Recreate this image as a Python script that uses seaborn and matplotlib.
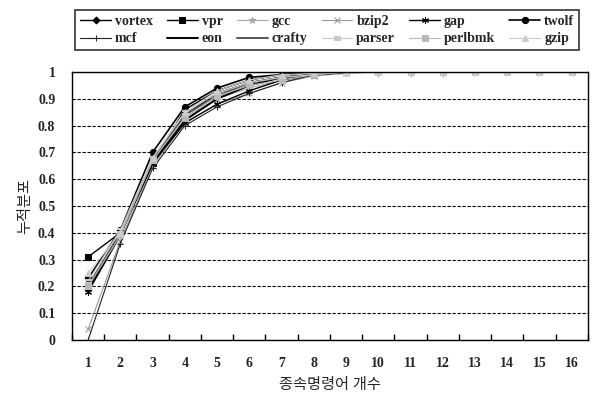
import numpy as np
import pandas as pd
import matplotlib
matplotlib.use("Agg")
import matplotlib.pyplot as plt
import seaborn as sns
from matplotlib.ticker import FixedLocator

x = list(range(1, 17))
nan = np.nan
vortex  = [0.19, 0.40, 0.66, 0.86, 0.93, 0.97, 0.99, 1.00, 1.00, 1.00, 1.00, 1.00, nan, nan, nan, nan]
vpr     = [0.31, 0.40, 0.66, 0.84, 0.92, 0.96, 0.98, 0.99, 1.00, 1.00, 1.00, 1.00, nan, nan, nan, nan]
gcc     = [0.21, 0.39, 0.67, 0.83, 0.90, 0.94, 0.97, 0.99, 1.00, 1.00, 1.00, 1.00, nan, nan, nan, nan]
bzip2   = [0.04, 0.37, 0.65, 0.81, 0.88, 0.92, 0.96, 0.985, 0.995, 1.00, 1.00, 1.00, nan, nan, nan, nan]
gap     = [0.18, 0.39, 0.66, 0.81, 0.88, 0.93, 0.97, 0.99, 1.00, 1.00, 1.00, 1.00, nan, nan, nan, nan]
twolf   = [0.23, 0.41, 0.70, 0.87, 0.94, 0.98, 0.99, 1.00, 1.00, 1.00, 1.00, 1.00, nan, nan, nan, nan]
mcf     = [0.00, 0.36, 0.64, 0.80, 0.87, 0.92, 0.96, 0.99, 1.00, 1.00, 1.00, 1.00, nan, nan, nan, nan]
eon     = [0.19, 0.40, 0.66, 0.82, 0.90, 0.95, 0.98, 0.99, 1.00, 1.00, 1.00, 1.00, nan, nan, nan, nan]
crafty  = [0.20, 0.40, 0.67, 0.84, 0.91, 0.96, 0.98, 0.99, 1.00, 1.00, 1.00, 1.00, nan, nan, nan, nan]
parser  = [0.22, 0.41, 0.68, 0.85, 0.92, 0.96, 0.98, 0.99, 1.00, 1.00, 1.00, 1.00, 1.00, 1.00, 1.00, 1.00]
perlbmk = [0.20, 0.39, 0.67, 0.83, 0.91, 0.95, 0.97, 0.99, 1.00, 1.00, 1.00, 1.00, 1.00, 1.00, 1.00, 1.00]
gzip    = [0.25, 0.40, 0.68, 0.85, 0.93, 0.97, 0.99, 0.995, 1.00, 1.00, 1.00, 1.00, 1.00, 1.00, 1.00, 1.00]

series = [
    ("vortex", vortex), ("vpr", vpr), ("gcc", gcc), ("bzip2", bzip2),
    ("gap", gap), ("twolf", twolf), ("mcf", mcf), ("eon", eon),
    ("crafty", crafty), ("parser", parser), ("perlbmk", perlbmk), ("gzip", gzip),
]
styles = {
    "vortex":  dict(color="black", marker="D", ms=3.5, lw=1.0),
    "vpr":     dict(color="black", marker="s", ms=4, lw=1.0),
    "gcc":     dict(color="#a8a8a8", marker="*", ms=5, lw=0.8),
    "bzip2":   dict(color="#999999", marker="x", ms=4, lw=0.8),
    "gap":     dict(color="black", marker=(6, 2, 0), ms=5, lw=1.0),
    "twolf":   dict(color="black", marker="o", ms=4.5, lw=1.2),
    "mcf":     dict(color="#222222", marker="+", ms=5, lw=0.8),
    "eon":     dict(color="black", marker="None", ms=4, lw=1.4),
    "crafty":  dict(color="#555555", marker="None", ms=4, lw=1.4),
    "parser":  dict(color="#c8c8c8", marker="$=$", ms=5, lw=0.8),
    "perlbmk": dict(color="#b8b8b8", marker="s", ms=4, lw=0.8),
    "gzip":    dict(color="#cccccc", marker="^", ms=4, lw=0.8),
}

sns.set_theme(style="white")
plt.rcParams["font.family"] = ["Liberation Serif", "Noto Sans CJK KR"]

fig = plt.figure(figsize=(5.95, 4.0), dpi=100)
ax = fig.add_axes([0.121, 0.15, 0.867, 0.67])

for name, vals in series:
    st = styles[name]
    df = pd.DataFrame({"x": x, "y": vals}).dropna()
    sns.lineplot(data=df, x="x", y="y", ax=ax, color=st["color"], marker=st["marker"],
                 markersize=st["ms"], linewidth=st["lw"], label=name,
                 markeredgecolor=st["color"], markerfacecolor=st["color"], legend=False)

ax.set_xlim(0.5, 16.5)
ax.set_ylim(0, 1)
ax.set_yticks([i / 10 for i in range(11)])
ax.set_yticklabels(["0"] + [f"0.{i}" for i in range(1, 10)] + ["1"])
ax.set_xticks(x)
ax.set_xticklabels([str(v) for v in x])
ax.xaxis.set_minor_locator(FixedLocator([v + 0.5 for v in range(0, 17)]))
ax.tick_params(axis="x", which="major", length=0, pad=12, labelsize=10)
ax.tick_params(axis="x", which="minor", direction="in", length=4, color="black", bottom=True)
ax.tick_params(axis="y", which="major", length=0, pad=12, labelsize=10)
for lab in ax.get_xticklabels() + ax.get_yticklabels():
    lab.set_fontweight("bold")
ax.grid(axis="y", color="black", linestyle=(0, (3, 1.5)), linewidth=0.8)
ax.grid(axis="x", visible=False)
for sp in ax.spines.values():
    sp.set_color("black")
    sp.set_linewidth(1.0)

ax.set_xlabel("종속명령어 개수", fontsize=11, labelpad=6)
ax.set_ylabel("누적분포", fontsize=11, labelpad=4)

handles, labels = ax.get_legend_handles_labels()
ncol = 6
order = []
for c in range(ncol):
    order += [c, c + ncol]
handles = [handles[i] for i in order]
labels = [labels[i] for i in order]
leg = fig.legend(handles, labels, ncol=ncol, loc="center",
                 bbox_to_anchor=(0.115, 0.855, 0.87, 0.14), mode="expand",
                 frameon=True, fancybox=False, edgecolor="black",
                 handlelength=2.2, handletextpad=0.3, columnspacing=0.8,
                 borderpad=0.35, labelspacing=0.35, prop={"weight": "bold", "size": 10})
leg.get_frame().set_linewidth(1.2)

fig.savefig("out.png", dpi=100, facecolor="white")
